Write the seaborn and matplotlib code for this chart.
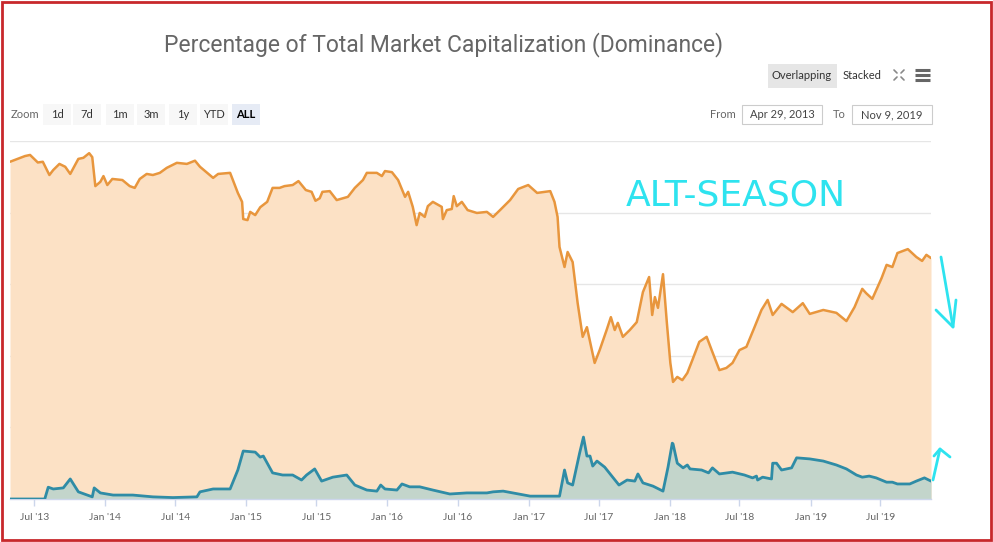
import pandas as pd
import matplotlib
matplotlib.use("Agg")
import matplotlib.pyplot as plt
from matplotlib.patches import Rectangle
import seaborn as sns

# bitcoin dominance (%)
btc_dates = [
    "2013-04-29", "2013-06-07", "2013-06-20", "2013-07-10", "2013-07-23", "2013-08-09", "2013-08-19",
    "2013-09-04", "2013-09-19", "2013-10-02", "2013-10-23", "2013-11-05", "2013-11-20", "2013-11-28",
    "2013-12-06", "2013-12-19", "2013-12-27", "2014-01-06", "2014-01-19", "2014-02-14", "2014-03-05",
    "2014-03-18", "2014-03-31", "2014-04-18", "2014-05-04", "2014-05-22", "2014-06-09", "2014-07-05",
    "2014-07-31", "2014-08-21", "2014-09-03", "2014-10-07", "2014-10-20", "2014-11-20", "2014-12-10",
    "2014-12-21", "2014-12-24", "2015-01-04", "2015-01-11", "2015-01-24", "2015-02-06", "2015-02-24",
    "2015-03-10", "2015-03-28", "2015-04-10", "2015-05-01", "2015-05-16", "2015-06-04", "2015-06-19",
    "2015-06-29", "2015-07-10", "2015-07-17", "2015-08-05", "2015-08-23", "2015-09-21", "2015-10-09",
    "2015-10-30", "2015-11-09", "2015-12-05", "2015-12-18", "2015-12-26", "2016-01-13", "2016-01-29",
    "2016-02-16", "2016-02-24", "2016-03-07", "2016-03-17", "2016-03-25", "2016-04-07", "2016-04-15",
    "2016-04-28", "2016-05-21", "2016-05-24", "2016-06-03", "2016-06-16", "2016-06-21", "2016-06-29",
    "2016-07-12", "2016-07-27", "2016-08-20", "2016-09-15", "2016-10-01", "2016-10-19", "2016-11-14",
    "2016-12-05", "2016-12-31", "2017-01-23", "2017-02-26", "2017-03-09", "2017-03-17", "2017-03-22",
    "2017-04-04", "2017-04-12", "2017-04-25", "2017-05-08", "2017-05-21", "2017-06-01", "2017-06-21",
    "2017-07-04", "2017-07-22", "2017-08-02", "2017-08-12", "2017-08-20", "2017-09-02", "2017-09-20",
    "2017-10-08", "2017-10-24", "2017-11-09", "2017-11-17", "2017-11-24", "2017-12-02", "2017-12-15",
    "2017-12-25", "2018-01-03", "2018-01-10", "2018-01-21", "2018-02-03", "2018-02-16", "2018-03-01",
    "2018-03-19", "2018-04-07", "2018-04-20", "2018-05-10", "2018-05-28", "2018-06-13", "2018-07-01",
    "2018-07-19", "2018-08-09", "2018-08-27", "2018-09-12", "2018-09-25", "2018-10-18", "2018-11-16",
    "2018-12-12", "2018-12-30", "2019-02-03", "2019-03-09", "2019-04-04", "2019-04-25", "2019-05-15",
    "2019-05-25", "2019-06-10", "2019-07-04", "2019-07-17", "2019-08-01", "2019-08-14", "2019-09-10",
    "2019-10-02", "2019-10-17", "2019-10-28", "2019-11-09",
]
btc_share = [
    94.2, 95.8, 96.1, 94.0, 94.2, 90.5, 91.9,
    93.6, 92.8, 90.8, 95.0, 95.3, 96.6, 95.5,
    87.4, 88.6, 90.2, 87.7, 89.4, 89.1, 87.4,
    86.9, 89.4, 90.8, 90.5, 91.1, 92.5, 93.9,
    93.6, 94.5, 92.8, 89.7, 90.8, 91.1, 85.5,
    83.0, 78.2, 77.9, 80.2, 79.3, 81.5, 83.0,
    86.9, 86.9, 87.4, 87.7, 88.8, 86.3, 85.8,
    83.3, 84.0, 85.8, 86.0, 83.5, 84.4, 86.9,
    89.1, 91.1, 91.1, 90.2, 91.6, 91.3, 89.1,
    84.4, 85.8, 81.6, 76.5, 79.9, 78.8, 81.8,
    83.0, 81.6, 78.2, 80.7, 81.0, 84.6, 81.8,
    83.0, 80.7, 79.9, 80.2, 78.8, 80.7, 83.5,
    86.6, 87.7, 85.5, 86.0, 83.0, 78.8, 70.4,
    64.8, 69.0, 66.2, 54.7, 45.3, 48.0, 38.0,
    41.6, 47.2, 50.8, 47.2, 49.2, 45.3, 47.2,
    49.4, 57.8, 62.0, 51.4, 56.4, 53.4, 62.8,
    49.2, 38.0, 32.7, 34.1, 33.2, 35.2, 38.8,
    43.9, 45.3, 41.6, 36.0, 36.6, 38.0, 41.6,
    42.5, 48.0, 52.8, 55.6, 51.4, 54.5, 52.2,
    54.7, 51.7, 52.8, 52.0, 49.7, 53.6, 58.7,
    57.5, 55.9, 61.7, 65.4, 64.8, 68.7, 69.8,
    67.6, 66.5, 68.2, 67.3,
]

# second coin dominance (%)
alt_dates = [
    "2013-04-29", "2013-07-28", "2013-08-06", "2013-08-19", "2013-09-14", "2013-10-02", "2013-10-23",
    "2013-11-28", "2013-12-03", "2013-12-19", "2014-01-21", "2014-03-13", "2014-05-04", "2014-06-25",
    "2014-08-26", "2014-09-03", "2014-10-07", "2014-11-20", "2014-12-10", "2014-12-24", "2015-01-24",
    "2015-02-06", "2015-02-14", "2015-03-10", "2015-04-05", "2015-05-01", "2015-05-24", "2015-06-06",
    "2015-06-27", "2015-07-15", "2015-08-13", "2015-09-18", "2015-10-09", "2015-11-09", "2015-12-05",
    "2015-12-15", "2015-12-26", "2016-01-26", "2016-02-08", "2016-02-28", "2016-03-25", "2016-04-28",
    "2016-06-11", "2016-07-25", "2016-09-15", "2016-10-01", "2016-10-27", "2017-01-05", "2017-03-22",
    "2017-04-04", "2017-04-12", "2017-04-25", "2017-05-13", "2017-05-23", "2017-06-01", "2017-06-09",
    "2017-06-16", "2017-06-27", "2017-07-17", "2017-08-23", "2017-09-13", "2017-10-03", "2017-10-11",
    "2017-10-24", "2017-11-19", "2017-12-15", "2017-12-28", "2018-01-08", "2018-01-10", "2018-01-21",
    "2018-02-05", "2018-02-16", "2018-02-23", "2018-03-25", "2018-04-12", "2018-04-22", "2018-05-10",
    "2018-06-13", "2018-07-14", "2018-08-04", "2018-08-14", "2018-08-17", "2018-08-30", "2018-09-22",
    "2018-09-25", "2018-10-05", "2018-10-18", "2018-11-13", "2018-11-26", "2018-12-30", "2019-02-03",
    "2019-03-09", "2019-04-04", "2019-04-30", "2019-05-15", "2019-06-02", "2019-06-20", "2019-07-17",
    "2019-08-01", "2019-08-14", "2019-09-15", "2019-10-02", "2019-10-23", "2019-11-09",
]
alt_share = [
    0.0, 0.0, 3.3, 2.8, 3.1, 5.6, 2.0,
    0.6, 3.1, 1.7, 1.1, 1.1, 0.6, 0.4,
    0.6, 2.0, 2.8, 2.8, 8.1, 13.4, 13.1,
    11.7, 12.0, 7.3, 6.7, 6.7, 5.3, 6.7,
    8.4, 5.0, 6.1, 6.7, 3.9, 2.5, 2.2,
    3.9, 2.8, 2.5, 4.2, 3.4, 3.4, 2.5,
    1.4, 1.7, 1.7, 2.0, 2.2, 0.8, 0.8,
    8.1, 4.5, 3.9, 12.8, 17.3, 12.0, 12.0,
    9.2, 10.6, 8.9, 3.9, 5.3, 5.0, 7.0,
    4.5, 3.6, 2.2, 8.9, 15.6, 15.4, 10.0,
    8.7, 9.5, 8.4, 8.1, 7.3, 8.7, 7.0,
    7.5, 6.7, 5.9, 6.4, 5.3, 6.1, 5.6,
    10.0, 10.0, 8.1, 8.7, 11.5, 11.2, 10.6,
    9.5, 8.4, 6.7, 6.1, 6.4, 5.9, 4.7,
    4.7, 4.2, 4.2, 5.0, 5.9, 5.0,
]

tick_dates = ["2013-07-01", "2014-01-01", "2014-07-01", "2015-01-01", "2015-07-01", "2016-01-01",
              "2016-07-01", "2017-01-01", "2017-07-01", "2018-01-01", "2018-07-01", "2019-01-01",
              "2019-07-01"]
tick_labels = ["Jul '13", "Jan '14", "Jul '14", "Jan '15", "Jul '15", "Jan '16", "Jul '16",
               "Jan '17", "Jul '17", "Jan '18", "Jul '18", "Jan '19", "Jul '19"]
grid_levels = [20, 40, 60, 80, 100]
range_start = "2013-04-29"
range_end = "2019-11-09"

btc = pd.DataFrame({"date": pd.to_datetime(btc_dates), "share": btc_share})
alt = pd.DataFrame({"date": pd.to_datetime(alt_dates), "share": alt_share})

sns.set_style("white")
plt.rcParams["font.family"] = ["Lato", "DejaVu Sans"]

W, H = 993, 542
fig = plt.figure(figsize=(W / 100, H / 100), dpi=100)
fig.patch.set_facecolor("white")

# main plot area in pixel terms: x 10..931, y 141..499
ax = fig.add_axes([10 / W, 1 - 499 / H, 921 / W, 358 / H])
ax.set_facecolor("white")

for g in grid_levels:
    ax.axhline(g, color="#e6e6e6", lw=1, zorder=0)

ax.fill_between(btc["date"], btc["share"], color="#fce1c5", lw=0, zorder=1)
sns.lineplot(data=btc, x="date", y="share", ax=ax, color="#e8963d", lw=1.8, zorder=3)
ax.fill_between(alt["date"], alt["share"], color="#c3d5cb", lw=0, zorder=2)
sns.lineplot(data=alt, x="date", y="share", ax=ax, color="#2f8ca6", lw=2.0, zorder=4)

ax.set_xlim(pd.Timestamp(range_start), pd.Timestamp(range_end))
ax.set_ylim(0, 100)
ax.set_xticks(pd.to_datetime(tick_dates))
ax.set_xticklabels(tick_labels, fontsize=7.5, color="#666666")
ax.set_yticks([])
ax.set_xlabel("")
ax.set_ylabel("")
ax.tick_params(axis="x", length=5, width=1, color="#ccd6eb", direction="out", pad=5, bottom=True)
for side in ["top", "right", "left"]:
    ax.spines[side].set_visible(False)
ax.spines["bottom"].set_color("#ccd6eb")
ax.spines["bottom"].set_linewidth(1)

# overlay in pixel coordinates for the header widgets and hand drawn notes
ov = fig.add_axes([0, 0, 1, 1], facecolor="none")
ov.set_xlim(0, W)
ov.set_ylim(H, 0)
ov.axis("off")
ov.set_zorder(5)

ov.text(444, 45, "Percentage of Total Market Capitalization (Dominance)", ha="center", va="center",
        fontsize=16.5, color="#666666", family=["Roboto", "DejaVu Sans"])

# range selector
ov.text(11, 114, "Zoom", ha="left", va="center", fontsize=8, color="#666666")
buttons = ["1d", "7d", "1m", "3m", "1y", "YTD", "ALL"]
btn_left = [43, 73, 106, 137, 169, 200, 232]
for b, x0 in zip(buttons, btn_left):
    active = b == "ALL"
    ov.add_patch(Rectangle((x0, 104), 28, 21, facecolor="#e6ebf5" if active else "#f7f7f7",
                           edgecolor="none"))
    ov.text(x0 + 14, 114.5, b, ha="center", va="center", fontsize=8,
            color="#000000" if active else "#333333", fontweight="bold" if active else "normal")

ov.text(710, 114, "From", ha="left", va="center", fontsize=8, color="#666666")
ov.add_patch(Rectangle((742, 105), 80, 19, facecolor="white", edgecolor="#cccccc", lw=0.8))
ov.text(782, 114.5, "Apr 29, 2013", ha="center", va="center", fontsize=8, color="#444444")
ov.text(833, 114, "To", ha="left", va="center", fontsize=8, color="#666666")
ov.add_patch(Rectangle((852, 105), 80, 19, facecolor="white", edgecolor="#cccccc", lw=0.8))
ov.text(892, 114.5, "Nov 9, 2019", ha="center", va="center", fontsize=8, color="#444444")

# chart type toggle + icons
ov.add_patch(Rectangle((768, 64), 69, 24, facecolor="#e6e6e6", edgecolor="none"))
ov.text(802, 75.5, "Overlapping", ha="center", va="center", fontsize=8, color="#333333")
ov.text(843, 75.5, "Stacked", ha="left", va="center", fontsize=8, color="#333333")
for dx, dy in [(-1, -1), (1, -1), (-1, 1), (1, 1)]:
    ov.plot([899 + dx * 2, 899 + dx * 5], [75 + dy * 2, 75 + dy * 5], color="#888888", lw=1.2)
for yy in [70, 75, 80]:
    ov.plot([915, 930], [yy, yy], color="#666666", lw=2.2, solid_capstyle="butt")

# hand drawn notes
note = "#2ee3ef"
ov.text(736, 195, "ALT-SEASON", ha="center", va="center", fontsize=26, color=note,
        family=["DejaVu Sans"], fontweight="normal")
ov.plot([941, 953], [257, 327], color=note, lw=2, solid_capstyle="round")
ov.plot([936, 953, 956], [310, 327, 300], color=note, lw=2, solid_capstyle="round")
ov.plot([933, 940], [480, 449], color=note, lw=2, solid_capstyle="round")
ov.plot([934, 940, 950], [456, 449, 457], color=note, lw=2, solid_capstyle="round")

# red frame around the screenshot
ov.add_patch(Rectangle((1.5, 1.5), W - 3.5, H - 3.5, facecolor="none", edgecolor="#c8282b", lw=2))

fig.savefig("out.png", dpi=100)
